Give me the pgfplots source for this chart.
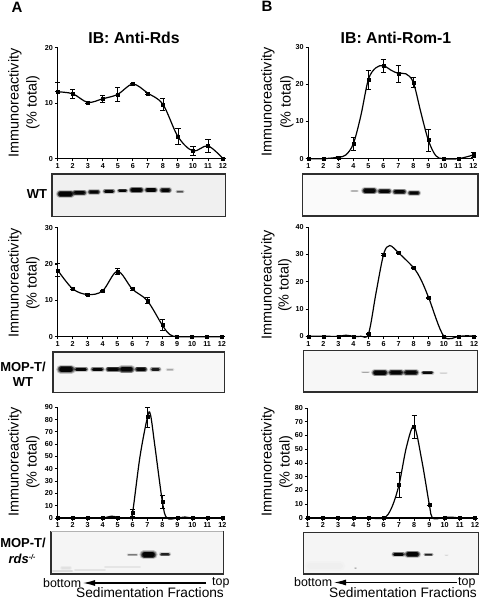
\documentclass[border=0pt]{standalone}
\usepackage{pgfplots}
\pgfplotsset{compat=1.18}
\usetikzlibrary{arrows.meta}
\usepackage{fontspec}
\setmainfont{Liberation Sans}
\pgfplotsset{
 pan/.style={
  scale only axis, clip=false, axis lines*=left, axis line style={-,line width=1.1pt},
  xmin=1,xmax=12,ymin=0, xtick={1,...,12}, tick align=outside,
  major tick length=2.8pt, tick style={line width=.9pt,black},
  ticklabel style={font=\bfseries\fontsize{7.2}{7.2}\selectfont},
  /pgf/number format/assume math mode=true,
  xticklabel style={yshift=1.4pt}, yticklabel style={xshift=1.6pt},
  every axis plot/.append style={black},
 },
 blot/.style={
  scale only axis, clip=true, hide x axis=false, xtick=\empty, ytick=\empty, y dir=reverse,
  axis line style={line width=1.1pt,black!82},
 },
 crv/.style={line width=1.2pt,smooth,tension=.55,no marks,forget plot},
 pts/.style={only marks,mark=square*,mark size=1.5pt,
  error bars/.cd,y dir=both,y explicit,
  error bar style={line width=.7pt},
  error mark options={rotate=90,mark size=2.6pt,line width=.7pt}},
}
% band: x1 x2 y(px) height strength(0-1)
\newcommand{\band}[5]{%
 \addplot[forget plot,line cap=round,no marks,color=black,opacity=.2*#5,line width=#4*1.35 pt] coordinates {(#1-.3,#3)(#2+.3,#3)};
 \addplot[forget plot,line cap=round,no marks,color=black,opacity=.35*#5,line width=#4*1.12 pt] coordinates {(#1,#3)(#2,#3)};
 \addplot[forget plot,line cap=round,no marks,color=black,opacity=.6*#5,line width=#4*.92 pt] coordinates {(#1+.3,#3)(#2-.3,#3)};
 \addplot[forget plot,line cap=round,no marks,color=black,opacity=.9*#5,line width=#4*.72 pt] coordinates {(#1+.8,#3)(#2-.8,#3)};
}
\newcommand{\smudge}[5]{%
 \addplot[forget plot,line cap=round,no marks,color=black,opacity=.5*#5,line width=#4*1.8 pt] coordinates {(#1,#3)(#2,#3)};
 \addplot[forget plot,line cap=round,no marks,color=black,opacity=.5*#5,line width=#4 pt] coordinates {(#1,#3)(#2,#3)};
}
\begin{document}
\begin{tikzpicture}[x=1pt,y=1pt]
\path[use as bounding box] (0,0) rectangle (480,600);
\tikzset{ylab/.style={rotate=90,font=\fontsize{14.4}{14.4}\selectfont,inner sep=0pt},
 side/.style={font=\bfseries\fontsize{13}{13}\selectfont,inner sep=0pt},
 bot/.style={font=\fontsize{12.4}{12.4}\selectfont,inner sep=0pt},
 sed/.style={font=\fontsize{13.7}{13.7}\selectfont,inner sep=0pt}}

% ---------- A1
\begin{axis}[pan,at={(57.7pt,441.3pt)},anchor=south west,width=165.3pt,height=111pt,ymax=20,ytick={0,10,20}]
\addplot[crv] coordinates {(1,12.05)(2,11.7)(3,10.15)(4,10.8)(5,11.6)(6,13.45)(7,11.8)(8,9.8)(9,4)(10,1.4)(11,2.3)(12,0)};
\addplot[pts] coordinates {
(1,12.05) += (0,1.7) -= (0,0)
(2,11.7) +- (0,.8)
(3,10.15) +- (0,.15)
(4,10.8) +- (0,.6)
(5,11.6) +- (0,1.2)
(6,13.45) +- (0,.2)
(7,11.8) +- (0,.2)
(8,9.8) +- (0,1)
(9,4) +- (0,1.5)
(10,1.4) +- (0,.8)
(11,2.3) +- (0,1.1)
(12,0) +- (0,0)};
\end{axis}
% ---------- B1
\begin{axis}[pan,at={(308.3pt,441.3pt)},anchor=south west,width=165pt,height=111.7pt,ymax=30,ytick={0,10,20,30}]
\addplot[crv] coordinates {(1,0)(2,0)(3,.4)(3.5,1)(4,4)(4.5,11.5)(5,21.2)(5.5,24.4)(6,25)(6.5,23.8)(7,22.9)(7.5,22.8)(8,20.5)(8.5,12.5)(9,5)(9.5,.8)(10,0)(11,0)(12,1)};
\addplot[pts] coordinates {
(1,0) +- (0,0)
(2,0) +- (0,0)
(3,.4) +- (0,.2)
(4,4) +- (0,1.8)
(5,21.2) +- (0,2.5)
(6,25) +- (0,1.8)
(7,22.9) +- (0,2.3)
(8,20.5) +- (0,1.3)
(9,5) +- (0,3)
(10,0) +- (0,0)
(11,0) +- (0,0)
(12,1) +- (0,.6)};
\end{axis}
% ---------- A2
\begin{axis}[pan,at={(57.7pt,263.3pt)},anchor=south west,width=164.3pt,height=109pt,ymax=30,ytick={0,10,20,30}]
\addplot[crv] coordinates {(1,18.3)(2,13.2)(3,11.6)(4,12.6)(5,18)(6,13.1)(7,9.9)(8,3.2)(8.5,.6)(9,0)(10,0)(11,0)(12,0)};
\addplot[pts] coordinates {
(1,18.3) +- (0,1.8)
(2,13.2) +- (0,.3)
(3,11.6) +- (0,.2)
(4,12.6) +- (0,.2)
(5,18) +- (0,.8)
(6,13.1) +- (0,.3)
(7,9.9) +- (0,.8)
(8,3.2) +- (0,1.5)
(9,0) +- (0,0)
(10,0) +- (0,0)
(11,0) +- (0,0)
(12,0) +- (0,0)};
\end{axis}
% ---------- B2
\begin{axis}[pan,at={(308.3pt,263.7pt)},anchor=south west,width=165.7pt,height=109.3pt,ymax=40,ytick={0,10,20,30,40}]
\addplot[crv] coordinates {(1,0)(2,0)(3,0)(3.5,.4)(4,0)(4.5,0)(5,1)(5.5,16)(6,30)(6.4,33.2)(7,30.5)(8,25)(8.5,20.5)(9,14)(10,0)(11,0)(11.5,.2)(12,0)};
\addplot[pts] coordinates {
(1,0) +- (0,0)
(2,0) +- (0,0)
(3,0) +- (0,0)
(4,0) +- (0,0)
(5,1) +- (0,.2)
(6,30) +- (0,.2)
(7,30.5) +- (0,.2)
(8,25) +- (0,.2)
(9,14) +- (0,.2)
(10,0) +- (0,0)
(11,0) +- (0,0)
(12,0) +- (0,0)};
\end{axis}
% ---------- A3
\begin{axis}[pan,at={(57.7pt,82pt)},anchor=south west,width=164.6pt,height=110.7pt,ymax=90,ytick={0,10,...,90}]
\addplot[crv] coordinates {(1,0)(2,0)(3,0)(4,0)(4.6,1.5)(5,.5)(5.4,0)(5.8,0)(6,4)(6.5,50)(7,82)(7.2,84)(7.5,58)(8,13)(8.3,0)(9,0)(9.5,.8)(10,0)(11,0)(12,0)};
\addplot[pts] coordinates {
(1,0) +- (0,0)
(2,0) +- (0,0)
(3,0) +- (0,0)
(4,0) +- (0,0)
(5,.5) +- (0,0)
(6,4) +- (0,3)
(7,82) +- (0,8)
(8,13) +- (0,5.5)
(9,.5) +- (0,0)
(10,0) +- (0,0)
(11,0) +- (0,0)
(12,0) +- (0,0)};
\end{axis}
% ---------- B3
\begin{axis}[pan,at={(307.7pt,82pt)},anchor=south west,width=167.3pt,height=110pt,ymax=80,ytick={0,10,...,80}]
\addplot[crv] coordinates {(1,0)(2,0)(3,0)(4,0)(5,0)(6,0)(6.5,7)(7,24)(7.5,52)(8,66.5)(8.5,42)(9,9.5)(9.2,0)(9.8,0)(10,.5)(10.5,.6)(11,0)(12,0)};
\addplot[pts] coordinates {
(1,0) +- (0,0)
(2,0) +- (0,0)
(3,0) +- (0,0)
(4,0) +- (0,0)
(5,0) +- (0,0)
(6,0) +- (0,0)
(7,24) +- (0,9)
(8,66.5) +- (0,8.5)
(9,9.5) +- (0,0)
(10,.5) +- (0,0)
(11,0) +- (0,0)
(12,0) +- (0,0)};
\end{axis}

% ---------- blots (x,y in image pixels)
\begin{axis}[blot,at={(52pt,383.3pt)},anchor=south west,width=173.7pt,height=42.7pt,xmin=52,xmax=225.7,ymin=174,ymax=216.7,axis background/.style={fill=black!6}]
\band{60}{71}{194}{5.5}{1}
\band{75}{84}{192.7}{4.6}{1}
\band{90}{98}{192}{3.8}{1}
\band{105}{113}{191.3}{3.4}{1}
\band{119}{126}{190.7}{2.9}{1}
\band{132}{141}{190}{4.7}{1}
\band{147}{155}{190}{4.2}{1}
\band{162}{169}{190.3}{4.2}{1}
\band{177}{183}{191.7}{2.2}{.45}
\end{axis}
\begin{axis}[blot,at={(302.7pt,384pt)},anchor=south west,width=175.3pt,height=42pt,xmin=302.7,xmax=478,ymin=174,ymax=216,axis background/.style={fill=black!2}]
\band{351}{358}{191}{1.5}{.15}
\band{365}{374}{190.7}{5.5}{1}
\band{380}{389}{191.3}{4.4}{1}
\band{395}{404}{191.7}{4.4}{1}
\band{410}{418}{193}{4}{1}
\end{axis}
\begin{axis}[blot,at={(53pt,207.7pt)},anchor=south west,width=171.3pt,height=40.3pt,xmin=53,xmax=224.3,ymin=352,ymax=392.3,axis background/.style={fill=black!3}]
\band{61}{71}{369.3}{6.6}{1}
\band{76}{86}{369.3}{3.4}{1}
\band{93}{102}{369.3}{3.8}{1}
\band{108}{118}{369.3}{4}{1}
\band{122}{131}{369.3}{6}{1}
\band{137}{145}{369.3}{4}{1}
\band{152}{159}{369.3}{3.4}{.75}
\band{167}{173}{369.7}{2.2}{.18}
\end{axis}
\begin{axis}[blot,at={(303.7pt,208pt)},anchor=south west,width=174pt,height=41.3pt,xmin=303.7,xmax=477.7,ymin=350.7,ymax=392,axis background/.style={fill=black!3}]
\band{362}{369}{372.3}{1.5}{.18}
\band{375}{385}{372.7}{5.4}{1}
\band{391}{401}{372.7}{4.8}{1}
\band{406}{416}{372.7}{4.8}{1}
\band{423}{432}{372.7}{3.2}{.95}
\band{440}{447}{373}{1.2}{.07}
\end{axis}
\begin{axis}[blot,at={(51pt,26pt)},anchor=south west,width=172.3pt,height=42.3pt,xmin=51,xmax=223.3,ymin=531.7,ymax=574,axis background/.style={fill=black!4}]
\smudge{53}{72}{571}{1.5}{.10}
\smudge{62}{70}{568}{2}{.08}
\smudge{75}{105}{570}{1.2}{.07}
\smudge{105}{140}{567}{1.2}{.06}
\band{128}{137}{554.7}{1.8}{.3}
\band{144}{153}{554.7}{6.4}{1}
\band{161}{169}{554.3}{2.8}{.7}
\end{axis}
\begin{axis}[blot,at={(303.3pt,26pt)},anchor=south west,width=175pt,height=41.3pt,xmin=303.3,xmax=478.3,ymin=532.7,ymax=574,axis background/.style={fill=black!4}]
\smudge{310}{340}{566}{6}{.02}
\smudge{355}{356}{568}{1}{.3}
\band{394}{403}{554.3}{3.4}{1}
\band{408}{417}{554.3}{5.6}{1}
\band{425}{432}{554.7}{2.2}{.7}
\band{445}{448}{555}{1}{.06}
\end{axis}
\draw[black!30,line width=1.2pt] (51,68.3) -- (223.3,68.3);

% ---------- text
\node[font=\bfseries\fontsize{15}{15}\selectfont,inner sep=0pt] at (17,593) {A};
\node[font=\bfseries\fontsize{15}{15}\selectfont,inner sep=0pt] at (267,594) {B};
\node[font=\bfseries\fontsize{15.8}{15.8}\selectfont,inner sep=0pt] at (134,562) {IB: Anti-Rds};
\node[font=\bfseries\fontsize{15.8}{15.8}\selectfont,inner sep=0pt] at (396,562) {IB: Anti-Rom-1};

\node[ylab] at (15,497) {Immunoreactivity};
\node[ylab] at (33,497.5) {(\% total)};
\node[ylab] at (268,498) {Immunoreactivity};
\node[ylab] at (287,498) {(\% total)};
\node[ylab] at (15,317) {Immunoreactivity};
\node[ylab] at (33,317) {(\% total)};
\node[ylab] at (268,315) {Immunoreactivity};
\node[ylab] at (285,315) {(\% total)};
\node[ylab] at (15,138) {Immunoreactivity};
\node[ylab] at (33,138) {(\% total)};
\node[ylab] at (268,138) {Immunoreactivity};
\node[ylab] at (286,138) {(\% total)};

\node[side] at (37,406) {WT};
\node[side] at (23,233) {MOP-T/};
\node[side] at (23,218) {WT};
\node[side] at (23,57) {MOP-T/};
\node[side] at (22,41) {\textit{rds}\raisebox{.7ex}{\fontsize{7}{7}\selectfont\textit{-/-}}};

\node[bot,anchor=west] at (43,17) {bottom};
\node[bot,anchor=west] at (212,17) {top};
\draw[-{Latex[length=12pt,width=6pt]},line width=1.1pt] (206,17) -- (83,17);
\node[sed] at (150,7.5) {Sedimentation Fractions};
\node[bot,anchor=west] at (294,17.5) {bottom};
\node[bot,anchor=west] at (458,17.5) {top};
\draw[-{Latex[length=12pt,width=6pt]},line width=1.1pt] (457,17.5) -- (334,17.5);
\node[sed] at (403,7.5) {Sedimentation Fractions};
\end{tikzpicture}
\end{document}
